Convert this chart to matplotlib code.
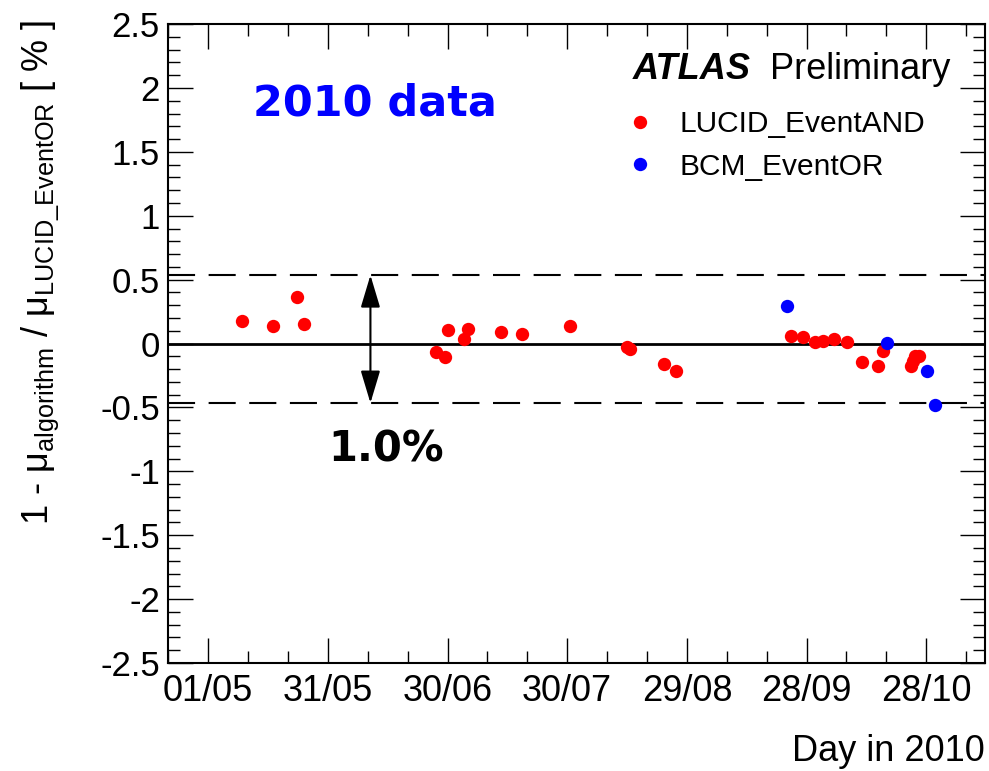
import matplotlib
matplotlib.use('Agg')
import matplotlib.pyplot as plt
import matplotlib.dates as mdates
from matplotlib.ticker import MultipleLocator
import pandas as pd

plt.rcParams['font.family'] = ['Liberation Sans', 'DejaVu Sans']
plt.rcParams['mathtext.fontset'] = 'custom'
plt.rcParams['mathtext.rm'] = 'Liberation Sans'
plt.rcParams['mathtext.it'] = 'Liberation Sans:italic'
plt.rcParams['mathtext.bf'] = 'Liberation Sans:bold'

# LUCID_EventAND points
lucid_dates = ['2010-05-09 11:00', '2010-05-17 04:00', '2010-05-23 04:00', '2010-05-25 01:00',
               '2010-06-27 00:00', '2010-06-29 07:00', '2010-06-30 00:00', '2010-07-04 05:00',
               '2010-07-05 05:00', '2010-07-13 07:00', '2010-07-18 14:00', '2010-07-30 19:00',
               '2010-08-14 02:00', '2010-08-14 17:00', '2010-08-23 05:00', '2010-08-26 07:00',
               '2010-09-24 00:00', '2010-09-27 00:00', '2010-09-30 00:00', '2010-10-02 02:00',
               '2010-10-05 00:00', '2010-10-08 02:00', '2010-10-12 00:00', '2010-10-16 00:00',
               '2010-10-17 07:00', '2010-10-24 07:00', '2010-10-24 17:00', '2010-10-25 05:00',
               '2010-10-26 05:00']
lucid_vals = [0.174, 0.138, 0.362, 0.156,
              -0.066, -0.104, 0.109, 0.036,
              0.114, 0.088, 0.073, 0.135,
              -0.026, -0.045, -0.162, -0.211,
              0.060, 0.052, 0.016, 0.021,
              0.039, 0.016, -0.143, -0.172,
              -0.057, -0.175, -0.136, -0.099,
              -0.094]

# BCM_EventOR points
bcm_dates = ['2010-09-23 00:00', '2010-10-18 02:00', '2010-10-28 05:00', '2010-10-30 05:00']
bcm_vals = [0.294, 0.002, -0.214, -0.480]

tick_dates = ['2010-05-01', '2010-05-31', '2010-06-30', '2010-07-30',
              '2010-08-29', '2010-09-28', '2010-10-28']
tick_labels = ['01/05', '31/05', '30/06', '30/07', '29/08', '28/09', '28/10']

band_hi = 0.535
band_lo = -0.465
arrow_date = '2010-06-10 16:00'

fig = plt.figure(figsize=(9.89, 7.71), dpi=100)
ax = fig.add_axes([0.1702, 0.140, 0.8258, 0.8288])

ax.axhline(0, color='black', lw=2, zorder=1)
ax.axhline(band_hi, color='black', lw=1.5, dashes=(13, 6.5), zorder=1)
ax.axhline(band_lo, color='black', lw=1.5, dashes=(13, 6.5), zorder=1)

ax.plot(pd.to_datetime(lucid_dates), lucid_vals, 'o', color='#ff0000', ms=9.6, mew=0,
        label='LUCID_EventAND', zorder=3)
ax.plot(pd.to_datetime(bcm_dates), bcm_vals, 'o', color='#0000ff', ms=9.6, mew=0,
        label='BCM_EventOR', zorder=3)

xa = mdates.date2num(pd.to_datetime(arrow_date))
ax.annotate('', xy=(xa, band_hi), xytext=(xa, band_lo),
            arrowprops=dict(arrowstyle='<|-|>,head_length=1.0,head_width=0.3',
                            color='black', lw=1.5, shrinkA=0, shrinkB=0,
                            mutation_scale=20))

ax.set_ylim(-2.5, 2.5)
ax.set_xlim(pd.to_datetime('2010-04-22 10:30'), pd.to_datetime('2010-11-11 18:00'))
ax.set_xticks(pd.to_datetime(tick_dates))
ax.set_xticklabels(tick_labels)
minor = pd.date_range('2010-04-21', '2010-11-12', freq='10D')
ax.set_xticks(minor, minor=True)
ax.yaxis.set_minor_locator(MultipleLocator(0.1))
ax.set_yticks([-2.5, -2, -1.5, -1, -0.5, 0, 0.5, 1, 1.5, 2, 2.5])
ax.set_yticklabels(['-2.5', '-2', '-1.5', '-1', '-0.5', '0', '0.5', '1', '1.5', '2', '2.5'])

ax.tick_params(which='both', direction='in', top=True, right=True, width=1)
ax.tick_params(which='major', length=18)
ax.tick_params(which='minor', length=8.6)
ax.tick_params(axis='x', labelsize=26, pad=8)
ax.tick_params(axis='y', labelsize=25, pad=6)
for s in ax.spines.values():
    s.set_linewidth(1.5)

ax.set_xlabel('Day in 2010', loc='right', fontsize=26, labelpad=18)
fig.text(0.041, 1 - 20 / 771,
         r'1 - $\mathrm{\mu}_{\mathrm{algorithm}}$ / $\mathrm{\mu}_{\mathrm{LUCID\_EventOR}}$ [ % ]',
         rotation=90, ha='center', va='top', fontsize=26)

fig.text(633 / 989, 1 - 79 / 771, 'ATLAS', fontsize=26, fontweight='bold', style='italic',
         va='baseline')
fig.text(770 / 989, 1 - 79 / 771, 'Preliminary', fontsize=26, va='baseline')

fig.text(375 / 989, 1 - 103 / 771, '2010 data', color='#0000ff', fontsize=31,
         fontweight='bold', family='DejaVu Sans', ha='center', va='center')
fig.text(386 / 989, 1 - 450 / 771, '1.0%', color='black', fontsize=30,
         fontweight='bold', family='DejaVu Sans', ha='center', va='center')

ax.legend(loc='upper left', bbox_to_anchor=(626 / 989, 1 - 110 / 771),
          bbox_transform=fig.transFigure, frameon=False, fontsize=21.5,
          handlelength=0.95, handletextpad=0.85, labelspacing=0.5,
          borderpad=0, borderaxespad=0, numpoints=1)

fig.savefig('out.png', dpi=100)
